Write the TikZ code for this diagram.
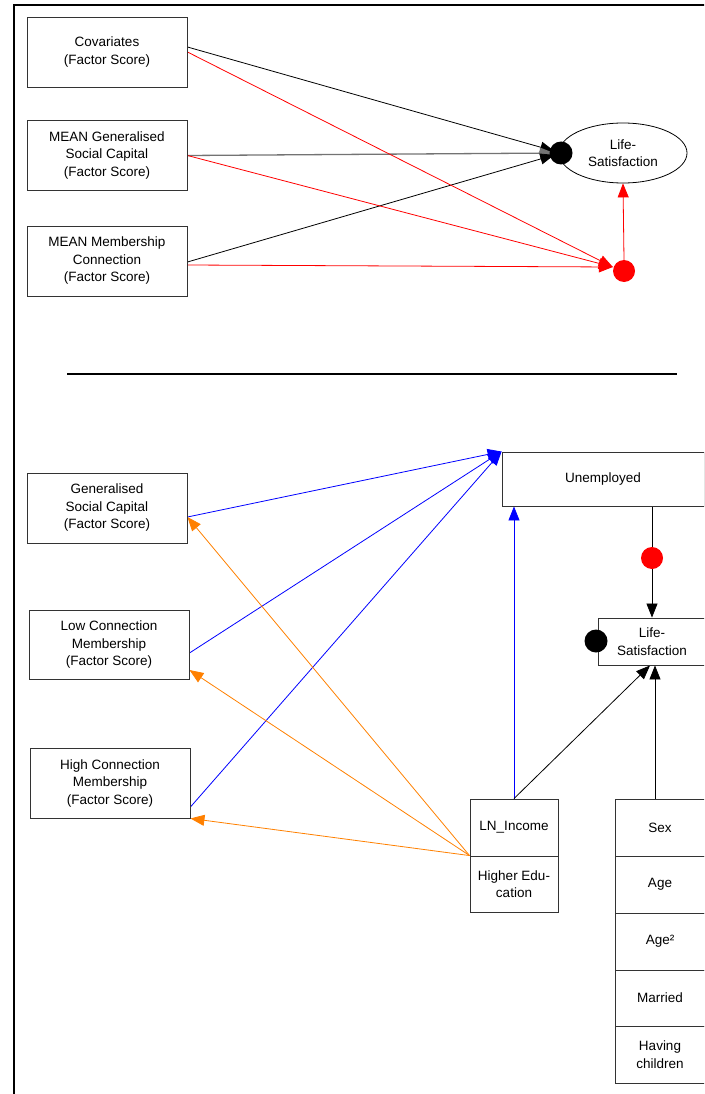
\documentclass[tikz,border=0pt]{standalone}
\usepackage{fontspec}
\setmainfont{Liberation Sans}
\usetikzlibrary{arrows.meta,backgrounds,shapes.geometric}
\definecolor{myred}{RGB}{255,0,0}
\definecolor{myblue}{RGB}{0,0,255}
\definecolor{myorange}{RGB}{255,128,0}
\begin{document}
\begin{tikzpicture}[x=1pt,y=-1pt,
  box/.style={draw=black!80,line width=0.9pt,fill=white,inner sep=0pt,align=center,
    font=\fontsize{13.5}{17.5}\selectfont},
  bigbox/.style={box,minimum width=160pt,minimum height=70pt},
  smallbox/.style={box,minimum width=88pt,minimum height=57pt},
  stackbox/.style={box,minimum width=90pt,minimum height=57pt},
  dotb/.style={circle,fill=black,inner sep=0pt,minimum size=23pt},
  dotr/.style={circle,fill=myred,inner sep=0pt,minimum size=22pt},
  conn/.style={line width=0.8pt,-{Triangle[length=14pt,width=11pt]}},
]
\useasboundingbox (0,0) rectangle (704,1094);
\clip (0,0) rectangle (704,1094);
\draw[line width=2pt] (14,1100) -- (14,5) -- (710,5);
\draw[line width=2pt] (67,374) -- (677,374);

% top section
\node[bigbox] (cov) at (107,52) {Covariates\\(Factor Score)};
\node[bigbox] (mgsc) at (107,155.5) {MEAN Generalised\\Social Capital\\(Factor Score)};
\node[bigbox] (mmc) at (107,261) {MEAN Membership\\Connection\\(Factor Score)};
\node[ellipse,draw=black,line width=0.8pt,fill=white,inner sep=0pt,minimum width=128pt,minimum height=60pt,
  align=center,font=\fontsize{13.5}{17.5}\selectfont] (ls1) at (623,153) {Life-\\Satisfaction};
\node[dotb] (topdot) at (561,153) {};
\node[dotr] (reddot) at (624,271) {};
\coordinate (redin) at ([yshift=4pt]reddot.west);

% bottom section
\node[bigbox] (gsc) at (107,508) {Generalised\\Social Capital\\(Factor Score)};
\node[bigbox,minimum height=69pt] (low) at (109,644.5) {Low Connection\\Membership\\(Factor Score)};
\node[bigbox] (high) at (110,783) {High Connection\\Membership\\(Factor Score)};
\node[box,minimum width=202pt,minimum height=54pt] (unemp) at (603,479) {Unemployed};
\node[box,minimum width=108pt,minimum height=47pt] (ls2) at (652,641.5) {Life-\\Satisfaction};
\node[dotb] (bdot) at (596,641) {};
\node[dotr] (rdot2) at (652,558) {};
\node[smallbox] (ln) at (514,827.5) {LN\_Income};
\node[smallbox,minimum height=56pt] (hed) at (514,884) {Higher Edu-\\cation};
\node[stackbox] (sex) at (660,827.5) {Sex};
\node[stackbox] (age) at (660,884.5) {Age};
\node[stackbox] (age2) at (660,941.5) {Age²};
\node[stackbox,minimum height=56pt] (mar) at (660,998) {Married};
\node[stackbox] (kids) at (660,1054.5) {Having\\children};

\begin{scope}[on background layer]
  % top connectors
  \draw[conn] ([yshift=5pt]cov.east) -- (topdot.center) [shorten >=7pt];
  \draw[conn,line width=1.3pt,black!55] (mgsc.east) -- (topdot.center) [shorten >=7pt];
  \draw[conn] ([yshift=-1pt]mmc.east) -- (topdot.center) [shorten >=7pt];
  \draw[conn,myred] (cov.east) -- (redin);
  \draw[conn,myred] (mgsc.east) -- (redin);
  \draw[conn,myred] ([yshift=-4pt]mmc.east) -- (redin);
  \draw[conn,myred] (reddot.north) -- (ls1.south);
  % bottom connectors
  \draw[conn,myblue] ([yshift=-9pt]gsc.east) -- (unemp.north west);
  \draw[conn,myblue] ([yshift=-8.5pt]low.east) -- (unemp.north west);
  \draw[conn,myblue] ([yshift=-24pt]high.east) -- (unemp.north west);
  \draw[conn,myblue] (ln.north) -- (ln.north |- unemp.south);
  \draw[conn,myorange] (hed.north west) -- ([yshift=-9pt]gsc.east);
  \draw[conn,myorange] (hed.north west) -- ([yshift=-25.5pt]low.east);
  \draw[conn,myorange] (hed.north west) -- (high.south east);
  \draw[conn] (ln.north) -- ([xshift=-2pt]ls2.south);
  \draw[conn] ([xshift=-5pt]sex.north) -- ([xshift=-5pt]sex.north |- ls2.south);
  \draw[conn] (ls2.north |- unemp.south) -- (ls2.north);
\end{scope}
\end{tikzpicture}
\end{document}
